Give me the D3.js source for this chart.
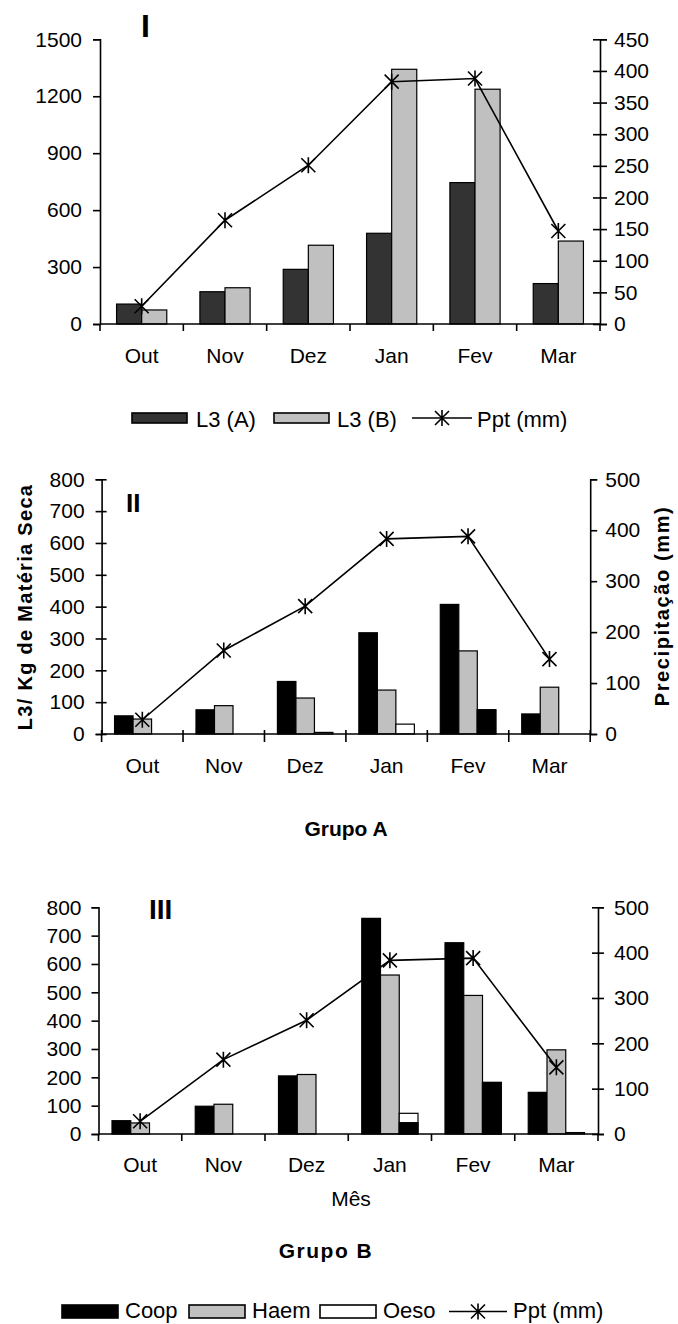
<!DOCTYPE html>
<html><head><meta charset="utf-8">
<script src="https://cdn.jsdelivr.net/npm/d3@7"></script>
<style>
body{margin:0;background:#fff}
text{font-family:"Liberation Sans",Arial,sans-serif;fill:#000}
</style>
</head><body>
<svg id="c" width="678" height="1324"></svg>
<script>
// ---------- data ----------
const months = ["Out","Nov","Dez","Jan","Fev","Mar"];
const ppt = [28, 164, 251, 383, 388, 147];

// Panel I
const l3A = [105, 170, 288, 478, 745, 213];
const l3B = [74, 191, 415, 1342, 1237, 437];
const ticksIL = [0, 300, 600, 900, 1200, 1500];
const ticksIR = [0, 50, 100, 150, 200, 250, 300, 350, 400, 450];

// Panel II (Grupo A)
const coopA = [57, 76, 165, 318, 407, 63];
const haemA = [47, 89, 113, 138, 261, 147];
const oesoA = [0, 0, 5, 31, 76, 0];
const oesoDarkA = [0, 0, 0, 0, 76, 0];

// Panel III (Grupo B)
const coopB = [47, 98, 205, 761, 675, 147];
const haemB = [39, 105, 210, 561, 489, 297];
const oesoB = [0, 0, 0, 73, 182, 5];
const oesoDarkB = [0, 0, 0, 40, 182, 0];

const ticksL = [0, 100, 200, 300, 400, 500, 600, 700, 800];
const ticksR = [0, 100, 200, 300, 400, 500];

// ---------- drawing ----------
const svg = d3.select("#c");
const FS = 21;
const FF = "Liberation Sans, Arial, sans-serif";
const fmt = d3.format("d");

function panel(o){
  const g = svg.append("g");
  const x = d3.scaleBand().domain(months).range([o.x0, o.x1]);
  const bw = x.bandwidth();
  const yL = d3.scaleLinear().domain([0, o.maxL]).range([o.y0, o.y1]);
  const yR = d3.scaleLinear().domain([0, o.maxR]).range([o.y0, o.y1]);
  const xs = d3.scaleBand().domain(d3.range(o.series.length)).range([0, bw]).paddingOuter(o.pad);

  // bars
  o.series.forEach((s, i) => {
    const data = s.values.map((v, j) => ({v, j})).filter(d => d.v > 0);
    g.selectAll(null).data(data).join("rect")
      .attr("x", d => x(months[d.j]) + xs(i))
      .attr("width", xs.bandwidth())
      .attr("y", d => yL(d.v))
      .attr("height", d => yL(0) - yL(d.v))
      .attr("fill", s.fill).attr("stroke", "#000").attr("stroke-width", 1.2);
    if (s.dark){
      const dd = s.dark.map((v, j) => ({v, j})).filter(d => d.v > 0);
      g.selectAll(null).data(dd).join("rect")
        .attr("x", d => x(months[d.j]) + xs(i))
        .attr("width", xs.bandwidth())
        .attr("y", d => yL(d.v))
        .attr("height", d => yL(0) - yL(d.v))
        .attr("fill", "#000").attr("stroke", "#000").attr("stroke-width", 1.2);
    }
  });

  // left axis
  const la = g.append("g").attr("transform", `translate(${o.x0},0)`)
    .call(d3.axisLeft(yL).tickValues(o.ticksL).tickFormat(fmt).tickSizeOuter(0).tickSize(o.lOut));
  la.select(".domain").attr("stroke", "#000").attr("stroke-width", 1.6);
  la.selectAll(".tick line").attr("stroke-width", 1.6).attr("x1", o.lIn).attr("x2", -o.lOut);
  la.selectAll(".tick text").attr("x", -o.lGap).attr("font-size", FS).attr("font-family", FF);

  // right axis
  const ra = g.append("g").attr("transform", `translate(${o.x1},0)`)
    .call(d3.axisRight(yR).tickValues(o.ticksR).tickFormat(fmt).tickSizeOuter(0).tickSize(o.rOut));
  ra.select(".domain").attr("stroke", "#000").attr("stroke-width", 1.6);
  ra.selectAll(".tick line").attr("stroke-width", 1.6).attr("x1", -o.rIn).attr("x2", o.rOut);
  ra.selectAll(".tick text").attr("x", o.rGap).attr("font-size", FS).attr("font-family", FF);

  // x axis
  g.append("line").attr("x1", o.x0).attr("x2", o.x1).attr("y1", yL(0)).attr("y2", yL(0))
    .attr("stroke", "#000").attr("stroke-width", 1.6);
  const bounds = months.map(m => x(m)).concat([x.range()[1]]);
  g.selectAll(null).data(bounds).join("line")
    .attr("x1", d => d).attr("x2", d => d)
    .attr("y1", yL(0) - o.xUp).attr("y2", yL(0) + o.xDown)
    .attr("stroke", "#000").attr("stroke-width", 1.6);
  g.selectAll(null).data(months).join("text")
    .attr("x", d => x(d) + bw / 2).attr("y", yL(0) + o.labDy)
    .attr("text-anchor", "middle").attr("font-size", FS).text(d => d);

  // precipitation line
  const line = d3.line().x((d, i) => x(months[i]) + bw / 2).y(d => yR(d));
  g.append("path").datum(ppt).attr("d", line)
    .attr("fill", "none").attr("stroke", "#000").attr("stroke-width", 1.6);
  g.selectAll(null).data(ppt).join("path")
    .attr("transform", (d, i) => `translate(${x(months[i]) + bw / 2},${yR(d)})`)
    .attr("d", "M-7,-7L7,7M-7,7L7,-7M0,-8L0,8")
    .attr("stroke", "#000").attr("stroke-width", 1.6).attr("fill", "none");

  // panel label
  g.append("text").attr("x", o.lab[0]).attr("y", o.lab[1])
    .attr("font-size", o.lab[2]).attr("font-weight", "bold").text(o.lab[3]);
  return g;
}

// Panel I
panel({
  x0: 100, x1: 600, y0: 324, y1: 39.3, maxL: 1500, maxR: 450,
  ticksL: ticksIL, ticksR: ticksIR,
  lOut: 7, lIn: 0, lGap: 18, rOut: 7, rIn: 7, rGap: 14,
  xUp: 0, xDown: 7, labDy: 39, pad: 0.66,
  series: [{values: l3A, fill: "#333333"}, {values: l3B, fill: "#c0c0c0"}],
  lab: [141, 36.5, 32, "I"]
});

// Panel II
panel({
  x0: 101.6, x1: 590.2, y0: 734, y1: 479.3, maxL: 800, maxR: 500,
  ticksL: ticksL, ticksR: ticksR,
  lOut: 6, lIn: 5, lGap: 17, rOut: 7, rIn: 0, rGap: 15,
  xUp: 4, xDown: 8, labDy: 39, pad: 0.7,
  series: [{values: coopA, fill: "#000"}, {values: haemA, fill: "#c0c0c0"},
           {values: oesoA, fill: "#fff", dark: oesoDarkA}],
  lab: [126, 511.5, 26, "II"]
});

// Panel III
panel({
  x0: 98.5, x1: 598, y0: 1134, y1: 907.3, maxL: 800, maxR: 500,
  ticksL: ticksL, ticksR: ticksR,
  lOut: 7, lIn: 0, lGap: 17, rOut: 6, rIn: 6, rGap: 16,
  xUp: 0, xDown: 7, labDy: 38, pad: 0.72,
  series: [{values: coopB, fill: "#000"}, {values: haemB, fill: "#c0c0c0"},
           {values: oesoB, fill: "#fff", dark: oesoDarkB}],
  lab: [149, 919, 28, "III"]
});

// Axis titles panel II
svg.append("text").attr("transform", "translate(32,607) rotate(-90)")
  .attr("text-anchor", "middle").attr("font-size", 20).attr("font-weight", "bold")
  .attr("letter-spacing", 1.3).text("L3/ Kg de Matéria Seca");
svg.append("text").attr("transform", "translate(669,606) rotate(-90)")
  .attr("text-anchor", "middle").attr("font-size", 20).attr("font-weight", "bold")
  .attr("letter-spacing", 1.6).text("Precipitação (mm)");

// Titles
svg.append("text").attr("x", 346).attr("y", 836).attr("text-anchor", "middle")
  .attr("font-size", 21).attr("font-weight", "bold").text("Grupo A");
svg.append("text").attr("x", 326).attr("y", 1258).attr("text-anchor", "middle")
  .attr("font-size", 21).attr("font-weight", "bold").attr("letter-spacing", 1.5).text("Grupo B");
svg.append("text").attr("x", 351).attr("y", 1206).attr("text-anchor", "middle")
  .attr("font-size", FS).text("Mês");

// Legends
function legend(items, yRect, hRect, yText){
  const g = svg.append("g");
  items.forEach(it => {
    if (it.type === "rect"){
      g.append("rect").attr("x", it.x).attr("y", yRect).attr("width", it.w).attr("height", hRect)
        .attr("fill", it.fill).attr("stroke", "#000").attr("stroke-width", 1.6);
    } else {
      const yc = yRect + hRect / 2;
      g.append("line").attr("x1", it.x).attr("x2", it.x + it.w).attr("y1", yc).attr("y2", yc)
        .attr("stroke", "#000").attr("stroke-width", 1.6);
      g.append("path").attr("transform", `translate(${it.x + it.w / 2},${yc})`)
        .attr("d", "M-7,-7L7,7M-7,7L7,-7M0,-8L0,8")
        .attr("stroke", "#000").attr("stroke-width", 1.6).attr("fill", "none");
    }
    g.append("text").attr("x", it.tx).attr("y", yText).attr("font-size", 22).text(it.label);
  });
}
legend([
  {type: "rect", x: 132, w: 55, fill: "#333333", tx: 196, label: "L3 (A)"},
  {type: "rect", x: 274, w: 55, fill: "#c0c0c0", tx: 337, label: "L3 (B)"},
  {type: "line", x: 412, w: 60, tx: 477, label: "Ppt (mm)"}
], 413, 10, 427);

legend([
  {type: "rect", x: 62, w: 56, fill: "#000", tx: 125, label: "Coop"},
  {type: "rect", x: 189, w: 56, fill: "#c0c0c0", tx: 252, label: "Haem"},
  {type: "rect", x: 320, w: 56, fill: "#fff", tx: 383, label: "Oeso"},
  {type: "line", x: 449, w: 58, tx: 513, label: "Ppt (mm)"}
], 1305, 13, 1318);
</script>
</body></html>
